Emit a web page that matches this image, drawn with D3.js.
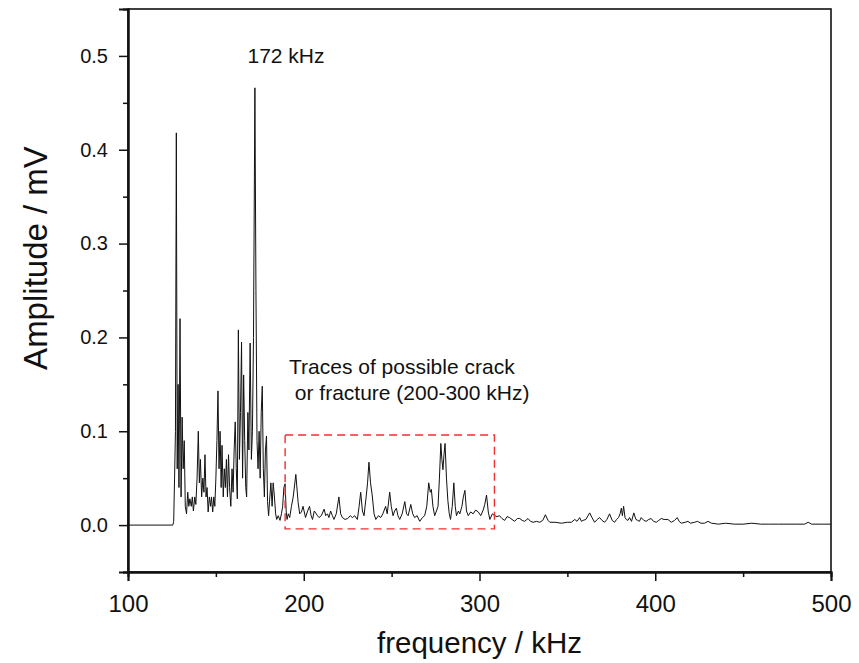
<!DOCTYPE html>
<html>
<head>
<meta charset="utf-8">
<script src="https://cdn.jsdelivr.net/npm/d3@7"></script>
<style>
	body { margin: 0; background: white; }
	text { font-family: "Liberation Sans", Arial, sans-serif; fill: #111; }
</style>
</head>
<body>
<div id="vizContainer"></div>
<script>
let w = 859;
let h = 663;

// spectrum (kHz, mV)
let freqs = [100, 125.5, 126, 126.5, 127, 127.5, 128, 128.5, 129, 129.6, 130.2, 130.8, 131.4, 132, 132.6, 133.3, 134, 134.6, 135.2, 136, 136.6, 137.2, 138, 138.6, 139.3, 140, 140.6, 141.2, 141.9, 142.6, 143.2, 143.8, 144.4, 145, 145.6, 146.3, 147, 147.5, 148.2, 148.8, 149.4, 150, 150.6, 151.2, 151.8, 152.4, 153, 153.5, 154.2, 154.8, 155.4, 156, 156.6, 157.2, 157.8, 158.5, 159.2, 159.8, 160.4, 161, 161.6, 162.2, 162.8, 163.4, 164, 164.6, 165.2, 165.8, 166.4, 167, 167.5, 168.2, 168.8, 169.5, 170.2, 170.8, 171.4, 172.2, 172.8, 173.4, 174, 174.6, 175.2, 175.8, 176.4, 177, 177.6, 178.2, 178.8, 179.4, 180, 180.7, 181.3, 182, 182.6, 183.2, 184, 184.6, 185.5, 186.5, 187.3, 188, 188.7, 189.4, 190, 190.5, 191.2, 192, 193, 194, 195.5, 196.8, 197.7, 198.7, 199.6, 201, 202.2, 203.3, 204.2, 205, 206, 206.8, 207.8, 208.7, 210, 211.6, 212.5, 213.5, 214.3, 215.3, 216.3, 217.2, 218.5, 220, 221, 222, 223.5, 225, 226.5, 227.7, 229, 230.5, 231.5, 232.4, 233.4, 234.3, 235.5, 236.3, 237.1, 238, 239, 240, 241, 242.5, 243.8, 245, 246.6, 247.5, 248.9, 249.8, 250.8, 251.7, 252.7, 253.6, 254.6, 256, 257.5, 258.5, 259.4, 260.9, 262, 263.1, 264.5, 266, 267.5, 268.8, 270, 271.1, 272, 272.6, 273.5, 274.5, 275.5, 276.4, 277.2, 278, 278.6, 279.2, 279.8, 280.4, 281.2, 282, 282.8, 283.5, 284.5, 285.4, 286.2, 286.9, 288, 288.8, 290, 290.8, 291.7, 292.6, 293.6, 295, 296.4, 297.8, 299.3, 300.7, 302.1, 303, 304, 305, 305.9, 307.3, 308.7, 310, 311.4, 312.8, 314.3, 315.7, 317.1, 318.5, 320, 321.5, 322.9, 324.3, 325.7, 327.6, 329, 330.5, 332.5, 334.3, 336, 337.5, 339, 340, 343, 346.6, 350, 352.3, 354.2, 355.5, 357, 358, 358.9, 360.5, 362.7, 364, 365.5, 367, 368.3, 369.7, 371.2, 372.5, 374, 375.5, 376.9, 378, 379.1, 380, 380.7, 381.3, 382, 382.8, 383.5, 384.5, 385.4, 386.5, 387.8, 389, 390.1, 391, 392, 393.5, 394.8, 396.3, 397.7, 399, 400.6, 402, 403.4, 405, 407.2, 409.1, 411, 412.5, 413.6, 414.8, 417, 418.6, 420, 422.4, 424, 426, 428, 430, 432, 436, 440, 445, 450, 455, 460, 465, 470, 475, 480, 485, 487, 489, 495, 500];

let amps = [0, 0, 0.004, 0.05, 0.1, 0.418, 0.06, 0.15, 0.04, 0.22, 0.03, 0.115, 0.06, 0.09, 0.02, 0.012, 0.035, 0.02, 0.028, 0.02, 0.03, 0.015, 0.03, 0.022, 0.05, 0.1, 0.045, 0.07, 0.03, 0.05, 0.035, 0.075, 0.03, 0.04, 0.014, 0.03, 0.02, 0.03, 0.014, 0.03, 0.02, 0.05, 0.09, 0.143, 0.06, 0.1, 0.04, 0.085, 0.03, 0.06, 0.04, 0.07, 0.03, 0.075, 0.04, 0.02, 0.06, 0.035, 0.08, 0.11, 0.06, 0.028, 0.208, 0.07, 0.12, 0.195, 0.05, 0.16, 0.09, 0.04, 0.03, 0.12, 0.08, 0.194, 0.07, 0.1, 0.2, 0.466, 0.25, 0.09, 0.06, 0.1, 0.05, 0.12, 0.148, 0.06, 0.03, 0.08, 0.095, 0.025, 0.01, 0.03, 0.045, 0.02, 0.045, 0.033, 0.012, 0.006, 0.01, 0.005, 0.012, 0.02, 0.04, 0.044, 0.015, 0.006, 0.012, 0.008, 0.02, 0.03, 0.054, 0.024, 0.012, 0.014, 0.02, 0.008, 0.015, 0.02, 0.01, 0.006, 0.015, 0.013, 0.01, 0.008, 0.01, 0.017, 0.01, 0.012, 0.008, 0.015, 0.01, 0.006, 0.012, 0.03, 0.012, 0.008, 0.006, 0.007, 0.01, 0.008, 0.01, 0.006, 0.02, 0.035, 0.015, 0.01, 0.03, 0.045, 0.067, 0.045, 0.031, 0.012, 0.006, 0.01, 0.008, 0.012, 0.02, 0.012, 0.035, 0.02, 0.01, 0.015, 0.018, 0.01, 0.006, 0.012, 0.025, 0.012, 0.01, 0.022, 0.012, 0.008, 0.01, 0.004, 0.008, 0.01, 0.02, 0.045, 0.035, 0.038, 0.02, 0.01, 0.015, 0.02, 0.05, 0.087, 0.07, 0.059, 0.075, 0.087, 0.05, 0.026, 0.012, 0.006, 0.02, 0.045, 0.02, 0.01, 0.015, 0.012, 0.02, 0.03, 0.037, 0.015, 0.01, 0.014, 0.012, 0.016, 0.014, 0.01, 0.016, 0.022, 0.032, 0.014, 0.006, 0.012, 0.01, 0.009, 0.01, 0.007, 0.005, 0.009, 0.008, 0.006, 0.004, 0.007, 0.007, 0.005, 0.004, 0.007, 0.004, 0.003, 0.004, 0.003, 0.005, 0.011, 0.005, 0.003, 0.003, 0.002, 0.003, 0.003, 0.006, 0.004, 0.008, 0.004, 0.005, 0.006, 0.013, 0.008, 0.003, 0.006, 0.008, 0.005, 0.003, 0.006, 0.012, 0.005, 0.003, 0.006, 0.008, 0.012, 0.018, 0.01, 0.02, 0.008, 0.006, 0.005, 0.008, 0.004, 0.013, 0.006, 0.005, 0.004, 0.008, 0.005, 0.004, 0.006, 0.007, 0.004, 0.003, 0.005, 0.007, 0.006, 0.006, 0.003, 0.005, 0.008, 0.004, 0.002, 0.003, 0.004, 0.002, 0.003, 0.004, 0.002, 0.002, 0.004, 0.002, 0.001, 0.002, 0.001, 0.001, 0.002, 0.001, 0.001, 0.001, 0.001, 0.001, 0.001, 0.003, 0.001, 0.001, 0.001];

let xTicks = [100, 200, 300, 400, 500];
let xMinor = [150, 250, 350, 450];
let yTicks = [0.0, 0.1, 0.2, 0.3, 0.4, 0.5];
let yMinor = [-0.05, 0.05, 0.15, 0.25, 0.35, 0.45];

// highlighted band: [f0, f1, a0, a1]
let boxRange = [189.4, 308.5, -0.004, 0.096];

let peakLabel = "172 kHz";
let noteLines = ["Traces of possible crack", " or fracture (200-300 kHz)"];

let margin = {left: 128, right: 28, top: 9, bottom: 91};

let viz = d3.select('#vizContainer').append('svg')
	.attr('width', w)
	.attr('height', h)
	.style('background-color', 'white')
	;

let xScale = d3.scaleLinear().domain([100, 500]).range([margin.left, w - margin.right])
let yScale = d3.scaleLinear().domain([-0.05, 0.55]).range([h - margin.bottom, margin.top])

let data = freqs.map(function(f, i){ return [f, amps[i]] })

// spectrum line
let line = d3.line()
	.x(function(d){ return xScale(d[0]) })
	.y(function(d){ return yScale(d[1]) })

viz.append('path')
	.datum(data)
	.attr('d', line)
	.attr('fill', 'none')
	.attr('stroke', '#111')
	.attr('stroke-width', 1)
	.attr('stroke-linejoin', 'round')
	;

// dashed box
viz.append('rect')
	.attr('x', xScale(boxRange[0]))
	.attr('y', yScale(boxRange[3]))
	.attr('width', xScale(boxRange[1]) - xScale(boxRange[0]))
	.attr('height', yScale(boxRange[2]) - yScale(boxRange[3]))
	.attr('fill', 'none')
	.attr('stroke', '#f03030')
	.attr('stroke-width', 1.4)
	.attr('stroke-dasharray', '8,5')
	;

// frame
viz.append('rect')
	.attr('x', margin.left)
	.attr('y', margin.top)
	.attr('width', w - margin.left - margin.right)
	.attr('height', h - margin.top - margin.bottom)
	.attr('fill', 'none')
	.attr('stroke', '#111')
	.attr('stroke-width', 1.6)
	;

// axes
let xAxis = viz.append('g')
	.attr('transform', 'translate(0,' + (h - margin.bottom) + ')')
	.call(d3.axisBottom(xScale).tickValues(xTicks).tickSize(9).tickPadding(14).tickFormat(d3.format('d')))
xAxis.append('g').call(d3.axisBottom(xScale).tickValues(xMinor).tickSize(5).tickFormat(''))

let yAxis = viz.append('g')
	.attr('transform', 'translate(' + margin.left + ',0)')
	.call(d3.axisLeft(yScale).tickValues(yTicks).tickSize(9).tickPadding(11).tickFormat(d3.format('.1f')))
yAxis.append('g').call(d3.axisLeft(yScale).tickValues(yMinor).tickSize(5).tickFormat(''))

viz.selectAll('.domain').attr('stroke', '#111').attr('stroke-width', 2)
viz.selectAll('.tick line').attr('stroke', '#111').attr('stroke-width', 1.5)
viz.selectAll('.tick text')
	.attr('font-family', '"Liberation Sans", Arial, sans-serif')
	.attr('fill', '#111')
xAxis.selectAll('.tick text').attr('font-size', 24)
yAxis.selectAll('.tick text').attr('font-size', 20)

// titles
viz.append('text')
	.attr('x', xScale(300))
	.attr('y', 653)
	.attr('text-anchor', 'middle')
	.attr('font-size', 29.5)
	.text('frequency / kHz')

viz.append('text')
	.attr('transform', 'translate(47,258) rotate(-90)')
	.attr('text-anchor', 'middle')
	.attr('font-size', 33)
	.text('Amplitude / mV')

// notes
viz.append('text')
	.attr('x', 286)
	.attr('y', 63)
	.attr('text-anchor', 'middle')
	.attr('font-size', 21)
	.text(peakLabel)

viz.selectAll('.note')
	.data(noteLines)
	.enter()
	.append('text')
	.attr('class', 'note')
	.attr('x', 289)
	.attr('y', function(d, i){ return 374 + i * 26 })
	.attr('font-size', 21)
	.style('white-space', 'pre')
	.text(function(d){ return d })
</script>
</body>
</html>
